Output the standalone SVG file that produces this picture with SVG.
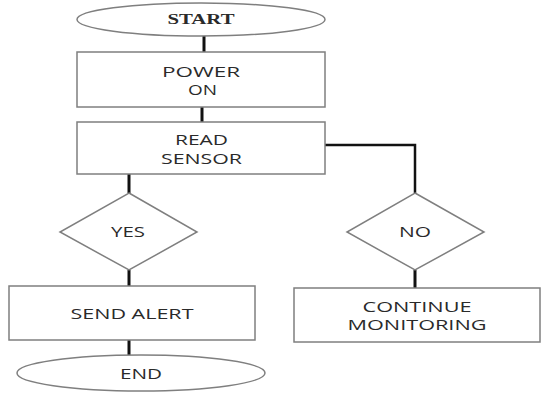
<svg xmlns="http://www.w3.org/2000/svg" width="541" height="405" viewBox="0 0 541 405">
<style>
.shape{fill:#fff;stroke:#7f7f7f;stroke-width:1.5}
.conn{fill:none;stroke:#111;stroke-width:3}
.t{font-family:"Open Sans","Liberation Sans",sans-serif;font-size:14px;fill:#2a2a2a;text-anchor:middle}
.s{font-family:"Liberation Serif",serif;font-size:14px;fill:#2a2a2a;text-anchor:middle;font-weight:bold}
</style>
<rect width="541" height="405" fill="#fff"/>
<g id="connectors">
<line class="conn" x1="204" y1="36" x2="204" y2="52"/>
<line class="conn" x1="202" y1="107" x2="202" y2="122"/>
<line class="conn" x1="129" y1="174" x2="129" y2="193"/>
<polyline class="conn" style="stroke-width:2.5" points="325,145 415,145 415,193"/>
<line class="conn" x1="129" y1="270" x2="129" y2="286"/>
<line class="conn" x1="415" y1="270" x2="415" y2="288"/>
<line class="conn" x1="129" y1="340" x2="129" y2="355"/>
</g>
<g id="start">
<ellipse class="shape" cx="201" cy="19.5" rx="124" ry="16.5"/>
<text class="s" x="201" y="24" textLength="67" lengthAdjust="spacingAndGlyphs">START</text>
</g>
<g id="power-on">
<rect class="shape" x="77" y="52" width="248" height="55"/>
<text class="t" x="201" y="76.5" textLength="78" lengthAdjust="spacingAndGlyphs">POWER</text>
<text class="t" x="202.5" y="95" textLength="29" lengthAdjust="spacingAndGlyphs">ON</text>
</g>
<g id="read-sensor">
<rect class="shape" x="77" y="122" width="248" height="52"/>
<text class="t" x="201.5" y="145" textLength="53" lengthAdjust="spacingAndGlyphs">READ</text>
<text class="t" x="201.5" y="163.5" textLength="81" lengthAdjust="spacingAndGlyphs">SENSOR</text>
</g>
<g id="yes">
<polygon class="shape" points="129,193 197,232 129,270 60,232"/>
<text class="t" x="128" y="237" textLength="34" lengthAdjust="spacingAndGlyphs">YES</text>
</g>
<g id="no">
<polygon class="shape" points="415,193 484,232 415,270 347,232"/>
<text class="t" x="415" y="237" textLength="32" lengthAdjust="spacingAndGlyphs">NO</text>
</g>
<g id="send-alert">
<rect class="shape" x="9" y="286" width="246" height="54"/>
<text class="t" x="132" y="319" textLength="123" lengthAdjust="spacingAndGlyphs">SEND ALERT</text>
</g>
<g id="continue-monitoring">
<rect class="shape" x="294" y="288" width="246" height="54"/>
<text class="t" x="417" y="311.5" textLength="109" lengthAdjust="spacingAndGlyphs">CONTINUE</text>
<text class="t" x="417" y="330" textLength="139" lengthAdjust="spacingAndGlyphs">MONITORING</text>
</g>
<g id="end">
<ellipse class="shape" cx="141" cy="373" rx="124" ry="18"/>
<text class="t" x="141" y="379" textLength="42" lengthAdjust="spacingAndGlyphs">END</text>
</g>
</svg>
